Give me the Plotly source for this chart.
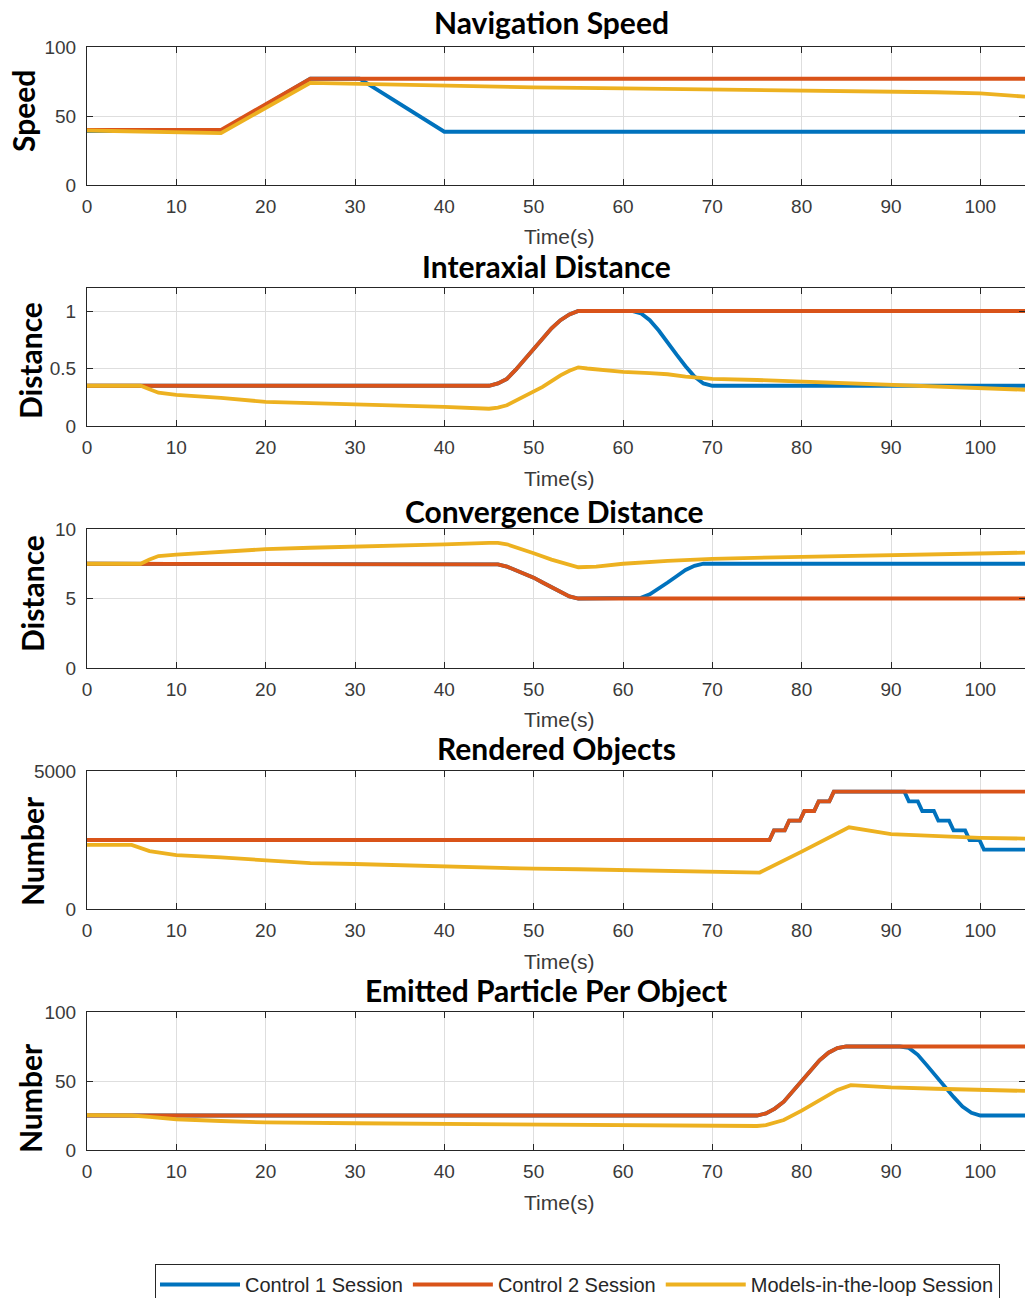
import plotly.graph_objects as go

W, H = 1025, 1298

series_names = ["Control 1 Session", "Control 2 Session", "Models-in-the-loop Session"]
series_colors = ["#0072BD", "#D95319", "#EDB120"]

panel_titles = ["Navigation Speed", "Interaxial Distance", "Convergence Distance",
                "Rendered Objects", "Emitted Particle Per Object"]
y_titles = ["Speed", "Distance", "Distance", "Number", "Number"]
x_title = "Time(s)"
x_ticks = [0, 10, 20, 30, 40, 50, 60, 70, 80, 90, 100]
y_ticks = [[0, 50, 100], [0, 0.5, 1], [0, 5, 10], [0, 5000], [0, 50, 100]]
y_ranges = [[0, 100], [0, 1.2], [0, 10], [0, 5000], [0, 100]]

# ---- Navigation Speed ----
speed_t_blue = [0, 15, 25, 30.5, 40, 105]
speed_blue = [39, 39, 77, 77, 38.6, 38.6]
speed_t_orange = [0, 15, 25, 105]
speed_orange = [40, 40, 77, 77]
speed_t_yellow = [0, 5, 10, 15, 25, 30, 40, 50, 60, 70, 80, 90, 95, 100, 105]
speed_yellow = [39.5, 39, 38.3, 37.6, 74, 73.3, 72.3, 70.8, 70, 69.3, 68.8, 67.6, 67.2, 66.4, 64]

# ---- Interaxial Distance ----
ia_t_orange = [0, 45, 46, 47, 48, 49, 50, 51, 52, 53, 54, 55, 105]
ia_orange = [0.35, 0.35, 0.37, 0.41, 0.49, 0.58, 0.68, 0.77, 0.85, 0.92, 0.97, 1.0, 1.0]
ia_t_blue = [0, 45, 46, 47, 48, 49, 50, 51, 52, 53, 54, 55, 61, 62, 63, 64, 65, 66, 67, 68, 69, 70, 105]
ia_blue = [0.35, 0.35, 0.37, 0.41, 0.49, 0.58, 0.68, 0.77, 0.85, 0.92, 0.97, 1.0,
           1.0, 0.98, 0.92, 0.83, 0.72, 0.62, 0.52, 0.43, 0.37, 0.35, 0.35]
ia_t_yellow = [0, 6, 7, 8, 10, 15, 20, 25, 30, 35, 40, 45, 46, 47, 48, 49, 50, 51, 52, 53, 54, 55,
               56, 58, 60, 63, 65, 67, 70, 75, 80, 85, 90, 95, 100, 105]
ia_yellow = [0.35, 0.35, 0.32, 0.29, 0.27, 0.245, 0.21, 0.20, 0.185, 0.175, 0.166, 0.15,
             0.16, 0.18, 0.22, 0.26, 0.30, 0.34, 0.39, 0.44, 0.48, 0.51,
             0.50, 0.485, 0.47, 0.46, 0.45, 0.43, 0.41, 0.40, 0.385, 0.375, 0.36, 0.345, 0.33, 0.315]

# ---- Convergence Distance ----
cv_t_orange = [0, 45, 46, 47, 48, 49, 50, 51, 52, 53, 54, 55, 105]
cv_orange = [7.5, 7.5, 7.45, 7.3, 7.05, 6.8, 6.5, 6.15, 5.8, 5.45, 5.15, 5.0, 5.0]
cv_t_blue = [0, 45, 46, 47, 48, 49, 50, 51, 52, 53, 54, 55, 61, 62, 63, 64, 65, 66, 67, 68, 69, 105]
cv_blue = [7.5, 7.5, 7.45, 7.3, 7.05, 6.8, 6.5, 6.15, 5.8, 5.45, 5.15, 5.0,
           5.0, 5.05, 5.3, 5.7, 6.15, 6.6, 7.05, 7.35, 7.5, 7.5]
cv_t_yellow = [0, 6, 7, 8, 10, 15, 20, 25, 30, 35, 40, 45, 46, 47, 48, 50, 52, 54, 55,
               57, 60, 65, 70, 80, 90, 100, 105]
cv_yellow = [7.5, 7.5, 7.8, 8.05, 8.15, 8.35, 8.55, 8.65, 8.72, 8.8, 8.9, 9.0,
             9.0, 8.9, 8.7, 8.25, 7.8, 7.4, 7.25, 7.3, 7.5, 7.7, 7.85, 8.0, 8.1, 8.25, 8.3]

# ---- Rendered Objects ----
ro_t_orange = [0, 76.4, 76.9, 78.1, 78.6, 79.8, 80.3, 81.4, 81.9, 83.1, 83.6, 105]
ro_orange = [2500, 2500, 2850, 2850, 3200, 3200, 3550, 3550, 3900, 3900, 4250, 4250]
ro_t_blue = [0, 76.4, 76.9, 78.1, 78.6, 79.8, 80.3, 81.4, 81.9, 83.1, 83.6,
             91.5, 92.0, 93.0, 93.5, 94.8, 95.3, 96.5, 97.0, 98.3, 98.8, 99.9, 100.4, 105]
ro_blue = [2500, 2500, 2850, 2850, 3200, 3200, 3550, 3550, 3900, 3900, 4250,
           4250, 3900, 3900, 3550, 3550, 3200, 3200, 2850, 2850, 2500, 2500, 2150, 2150]
ro_t_yellow = [0, 5, 7, 10, 15, 20, 25, 30, 35, 40, 45, 50, 55, 60, 65, 70, 75.3, 80, 85.3,
               90, 95, 100, 105]
ro_yellow = [2320, 2320, 2100, 1950, 1870, 1770, 1660, 1630, 1590, 1530, 1480, 1460, 1440,
             1410, 1360, 1350, 1320, 2080, 2960, 2710, 2640, 2580, 2550]

# ---- Emitted Particle Per Object ----
ep_t_orange = [0, 75, 76, 77, 78, 79, 80, 81, 82, 83, 84, 85, 105]
ep_orange = [25, 25, 26.5, 30, 35, 42.5, 50.5, 58, 65, 70.5, 73.8, 75, 75]
ep_t_blue = [0, 75, 76, 77, 78, 79, 80, 81, 82, 83, 84, 85,
             91, 92, 93, 94, 95, 96, 97, 98, 99, 100, 105]
ep_blue = [25, 25, 26.5, 30, 35, 42.5, 50.5, 58, 65, 70.5, 73.8, 75,
           75, 74, 69, 61.5, 53.5, 46, 38.5, 31.5, 27, 25, 25]
ep_t_yellow = [0, 5, 7, 10, 15, 20, 30, 40, 50, 60, 70, 75, 76, 78, 80, 82, 84, 85.5,
               90, 95, 100, 105]
ep_yellow = [25.3, 25, 24, 22.3, 21, 20, 19.4, 18.9, 18.6, 18.2, 17.7, 17.4, 18, 21.7,
             28.5, 36, 43.5, 47, 45.4, 44.4, 43.5, 42.8]

panels = [
    [(speed_t_blue, speed_blue), (speed_t_orange, speed_orange), (speed_t_yellow, speed_yellow)],
    [(ia_t_blue, ia_blue), (ia_t_orange, ia_orange), (ia_t_yellow, ia_yellow)],
    [(cv_t_blue, cv_blue), (cv_t_orange, cv_orange), (cv_t_yellow, cv_yellow)],
    [(ro_t_blue, ro_blue), (ro_t_orange, ro_orange), (ro_t_yellow, ro_yellow)],
    [(ep_t_blue, ep_blue), (ep_t_orange, ep_orange), (ep_t_yellow, ep_yellow)],
]

# layout geometry (pixels)
x_left_px = 87
panel_top_px = [47, 288, 529, 771, 1012]
panel_bot_px = [185, 426, 668, 909, 1150]
title_y_px = [22, 266, 511, 748, 990]
title_x_px = [551, 546, 554, 556, 546]
ytitle_x_px = [23, 30, 32, 32, 30]
ytitle_y_px = [111, 361, 594, 851, 1098]

fig = go.Figure()
layout = dict(
    width=W, height=H,
    margin=dict(l=0, r=0, t=0, b=0, autoexpand=False),
    paper_bgcolor="white", plot_bgcolor="white",
    showlegend=True,
    font=dict(family="Liberation Sans, Arial, sans-serif", color="#262626"),
)
annotations = []
tick_font = dict(family="Liberation Sans, Arial, sans-serif", size=19, color="#3a3a3a")
title_font = dict(family="Lato, Open Sans, sans-serif", size=30, color="black")

for i, series in enumerate(panels):
    n = i + 1
    xa = "x" if n == 1 else f"x{n}"
    ya = "y" if n == 1 else f"y{n}"
    for j, (t, v) in enumerate(series):
        fig.add_trace(go.Scatter(
            x=t, y=v, mode="lines", xaxis=xa, yaxis=ya,
            name=series_names[j], legendgroup=series_names[j],
            showlegend=(i == 0),
            line=dict(color=series_colors[j], width=3.8),
        ))
    dom_y = [1 - panel_bot_px[i] / H, 1 - panel_top_px[i] / H]
    common = dict(showline=True, linecolor="#262626", linewidth=1, mirror="ticks",
                  ticks="inside", ticklen=6, tickcolor="#262626",
                  showgrid=True, gridcolor="#dedede", gridwidth=1, zeroline=False,
                  tickfont=tick_font)
    layout["xaxis" if n == 1 else f"xaxis{n}"] = dict(
        domain=[x_left_px / W, 1.0], range=[0, 105], tickvals=x_ticks,
        anchor=ya, ticklabelstandoff=4, **common)
    layout["yaxis" if n == 1 else f"yaxis{n}"] = dict(
        domain=dom_y, range=y_ranges[i], tickvals=y_ticks[i],
        anchor=xa, ticklabelstandoff=6, **common)
    annotations.append(dict(
        text=f"<b>{panel_titles[i]}</b>", xref="paper", yref="paper",
        x=title_x_px[i] / W, y=1 - title_y_px[i] / H, xanchor="center", yanchor="middle",
        showarrow=False, font=title_font))
    annotations.append(dict(
        text=f"<b>{y_titles[i]}</b>", xref="paper", yref="paper", textangle=-90,
        x=ytitle_x_px[i] / W, y=1 - ytitle_y_px[i] / H, xanchor="center", yanchor="middle",
        showarrow=False, font=title_font))
    annotations.append(dict(
        text=x_title, xref="paper", yref="paper",
        x=559 / W, y=1 - (panel_bot_px[i] + 52) / H, xanchor="center", yanchor="middle",
        showarrow=False, font=dict(family="Liberation Sans, Arial, sans-serif", size=21, color="#3a3a3a")))

layout["annotations"] = annotations
layout["legend"] = dict(
    orientation="h", x=155 / W, y=1 - 1264 / H, xanchor="left", yanchor="top",
    bordercolor="#262626", borderwidth=1, bgcolor="white",
    font=dict(family="Liberation Sans, Arial, sans-serif", size=20, color="#262626"),
    itemwidth=80, tracegroupgap=0,
)
fig.update_layout(**layout)
fig.write_html("out.html")
